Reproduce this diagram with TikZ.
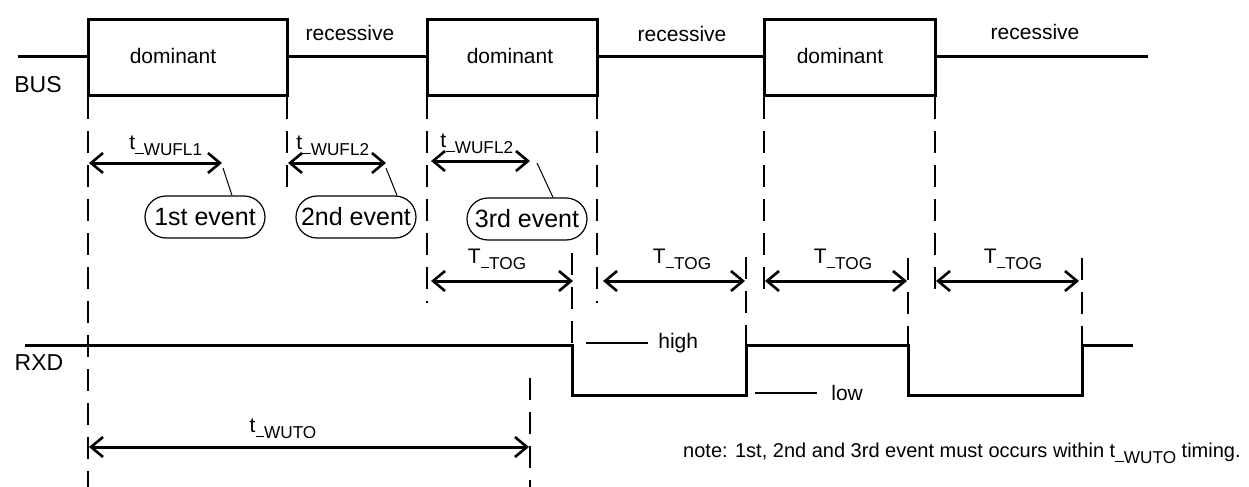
\documentclass[tikz,border=0pt]{standalone}
\usepackage{fontspec}
\setmainfont{Liberation Sans}
\usetikzlibrary{arrows.meta}
\tikzset{
  sig/.style={line width=1.5pt, line join=miter},
  guide/.style={line width=1pt, dash pattern=on 11pt off 6pt},
  dim/.style={line width=1.5pt, {Straight Barb[length=6pt,width=10pt,line width=1.3pt]}-{Straight Barb[length=6pt,width=10pt,line width=1.3pt]}},
  lbl/.style={inner sep=0pt, font=\fontsize{10.5pt}{12pt}\selectfont},
  notelbl/.style={inner sep=0pt, font=\fontsize{10pt}{12pt}\selectfont},
  biglbl/.style={inner sep=0pt, font=\fontsize{11.5pt}{13pt}\selectfont},
  bubble/.style={draw, line width=0.6pt, rounded corners=10.5pt, minimum width=60pt, minimum height=21pt, inner sep=0pt, font=\fontsize{12.5pt}{14pt}\selectfont},
  callout/.style={line width=0.5pt},
  tick/.style={line width=0.8pt}
}
\newcommand{\sub}[1]{\raisebox{-3.3pt}{\fontsize{8.6pt}{10pt}\selectfont\rule[0.8pt]{0.5em}{0.6pt}#1}}
\begin{document}
\begin{tikzpicture}[x=0.5pt,y=-0.5pt]
\useasboundingbox (0,0) rectangle (1249,487);
% BUS waveform
\draw[sig] (18,56) -- (88,56);
\draw[sig] (88,19) rectangle (287,95);
\draw[sig] (287,56) -- (427,56);
\draw[sig] (427,19) rectangle (597,95);
\draw[sig] (597,56) -- (764,56);
\draw[sig] (764,19) rectangle (935,95);
\draw[sig] (935,56) -- (1148,56);
\node[lbl] (d1) at (173,56) {dominant};
\node[lbl] (d2) at (510,56) {dominant};
\node[lbl] (d3) at (840,56) {dominant};
\node[lbl] (r1) at (350,33) {recessive};
\node[lbl] (r2) at (682,34) {recessive};
\node[lbl] (r3) at (1035,32) {recessive};
\node[biglbl] (bus) at (38,85) {BUS};
\node[biglbl] (rxd) at (39,363) {RXD};
% guide lines
\draw[guide] (88,97) -- (88,487);
\draw[guide] (287,97) -- (287,190);
\draw[guide] (427,97) -- (427,303);
\draw[guide] (597,97) -- (597,303);
\draw[guide] (764,97) -- (764,300);
\draw[guide] (935,97) -- (935,300);
\draw[guide] (572,253) -- (572,345);
\draw[guide] (746,257) -- (746,345);
\draw[guide] (908,258) -- (908,345);
\draw[guide] (1082,258) -- (1082,345);
\draw[guide] (530,378) -- (530,487);
% RXD waveform
\draw[sig] (25,345) -- (572,345) -- (572,395) -- (746,395) -- (746,345) -- (908,345) -- (908,395) -- (1082,395) -- (1082,345) -- (1133,345);
\draw[tick] (586,343) -- (648,343);
\node[lbl, anchor=west] (high) at (658,343) {high};
\draw[tick] (755,393) -- (817,393);
\node[lbl, anchor=west] (low) at (831,393) {low};
% wake-up filter arrows
\coordinate (a1s) at (89,163); \coordinate (a1e) at (222,163);
\coordinate (a2s) at (288,163); \coordinate (a2e) at (386,163);
\coordinate (a3s) at (431,161); \coordinate (a3e) at (530,161);
\draw[dim] (a1s) -- (a1e);
\draw[dim] (a2s) -- (a2e);
\draw[dim] (a3s) -- (a3e);
\node[lbl, anchor=base west] (w1) at (129,149) {t\sub{WUFL1}};
\node[lbl, anchor=base west] (w2) at (296,149) {t\sub{WUFL2}};
\node[lbl, anchor=base west] (w3) at (440,147) {t\sub{WUFL2}};
\node[bubble] (e1) at (205,217) {1st event};
\node[bubble] (e2) at (356,217) {2nd event};
\node[bubble] (e3) at (527,219) {3rd event};
\draw[callout] (223,168) -- (e1.north -| 232,0);
\draw[callout] (386,168) -- (e2.north -| 397,0);
\draw[callout] (537,163) -- (e3.north -| 553,0);
% toggle arrows
\coordinate (t1s) at (431,281); \coordinate (t1e) at (573,281);
\coordinate (t2s) at (603,281); \coordinate (t2e) at (745,281);
\coordinate (t3s) at (765,281); \coordinate (t3e) at (907,281);
\coordinate (t4s) at (936,281); \coordinate (t4e) at (1079,281);
\draw[dim] (t1s) -- (t1e);
\draw[dim] (t2s) -- (t2e);
\draw[dim] (t3s) -- (t3e);
\draw[dim] (t4s) -- (t4e);
\node[lbl, anchor=base] (g1) at (497,263) {T\sub{TOG}};
\node[lbl, anchor=base] (g2) at (682,263) {T\sub{TOG}};
\node[lbl, anchor=base] (g3) at (843,263) {T\sub{TOG}};
\node[lbl, anchor=base] (g4) at (1013,263) {T\sub{TOG}};
% wake-up timeout
\coordinate (ws) at (89,447); \coordinate (we) at (529,447);
\draw[dim] (ws) -- (we);
\node[lbl, anchor=base] (wuto) at (283,432) {t\sub{WUTO}};
\node[notelbl, anchor=base east] (note) at (1241,457) {note: 1st, 2nd and 3rd event must occurs within t\sub{WUTO} timing.};
\end{tikzpicture}
\end{document}
